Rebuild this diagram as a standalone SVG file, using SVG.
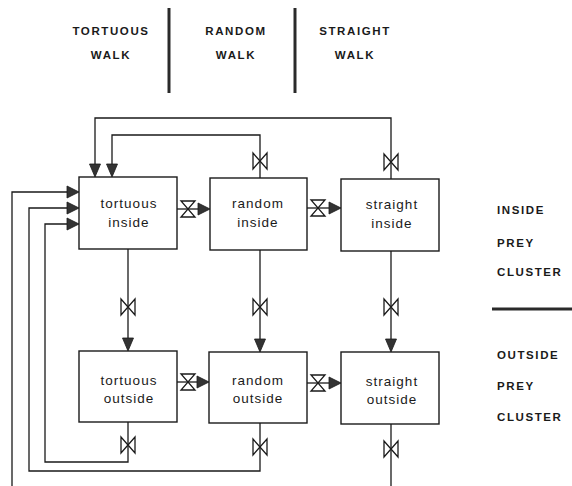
<svg xmlns="http://www.w3.org/2000/svg" xmlns:xlink="http://www.w3.org/1999/xlink" width="572" height="486" viewBox="0 0 572 486">
  <style>
    .hdr { font-family: "Liberation Sans", Arial, sans-serif; font-size: 11.5px; font-weight: bold; letter-spacing: 1.6px; fill: #1a1a1a; }
    .lbl { font-family: "Liberation Sans", Arial, sans-serif; font-size: 13.5px; letter-spacing: 1px; fill: #1a1a1a; text-anchor: middle; }
    .box { fill: #ffffff; stroke: #1a1a1a; stroke-width: 1.4; }
    .ln { fill: none; stroke: #1a1a1a; stroke-width: 1.3; }
    .bar { stroke: #2a2a2a; stroke-width: 3; }
    .valve { fill: #ffffff; stroke: #1a1a1a; stroke-width: 1.3; stroke-linejoin: miter; }
    .ah { fill: #333333; stroke: #1a1a1a; stroke-width: 0.8; }
  </style>
  <defs>
    <!-- valve on a vertical line -->
    <polygon id="valveV" class="valve" points="-7,-8 -7,8 7,-8 7,8"/>
    <!-- valve on a horizontal line -->
    <polygon id="valveH" class="valve" points="-7,-8 7,-8 -7,8 7,8"/>
    <!-- arrowhead pointing down, tip at origin -->
    <polygon id="ahDown" class="ah" points="0,0 -5.5,-13 5.5,-13"/>
    <!-- arrowhead pointing right, tip at origin -->
    <polygon id="ahRight" class="ah" points="0,0 -12,-6 -12,6"/>
  </defs>

  <!-- header -->
  <g id="header">
    <text class="hdr" x="111" y="35" text-anchor="middle">TORTUOUS</text>
    <text class="hdr" x="111" y="59" text-anchor="middle">WALK</text>
    <text class="hdr" x="236" y="35" text-anchor="middle">RANDOM</text>
    <text class="hdr" x="236" y="59" text-anchor="middle">WALK</text>
    <text class="hdr" x="355" y="35" text-anchor="middle">STRAIGHT</text>
    <text class="hdr" x="355" y="59" text-anchor="middle">WALK</text>
    <line class="bar" x1="169" y1="8" x2="169" y2="93"/>
    <line class="bar" x1="295" y1="8" x2="295" y2="93"/>
  </g>

  <!-- side labels -->
  <g id="side">
    <text class="hdr" x="497" y="214">INSIDE</text>
    <text class="hdr" x="497" y="247">PREY</text>
    <text class="hdr" x="497" y="276">CLUSTER</text>
    <line class="bar" x1="492" y1="309" x2="572" y2="309"/>
    <text class="hdr" x="497" y="359">OUTSIDE</text>
    <text class="hdr" x="497" y="390">PREY</text>
    <text class="hdr" x="497" y="421">CLUSTER</text>
  </g>

  <!-- connectors -->
  <g id="connectors">
    <!-- top feedback loops -->
    <polyline class="ln" points="391,179 391,118 95,118 95,166"/>
    <use href="#valveV" x="391" y="162"/>
    <use href="#ahDown" x="95" y="177"/>
    <polyline class="ln" points="260,178 260,135 112,135 112,166"/>
    <use href="#valveV" x="260" y="161"/>
    <use href="#ahDown" x="112" y="177"/>

    <!-- inside to outside -->
    <line class="ln" x1="128" y1="249" x2="128" y2="340"/>
    <use href="#valveV" x="128" y="307"/>
    <use href="#ahDown" x="128" y="351"/>
    <line class="ln" x1="260" y1="250" x2="260" y2="340"/>
    <use href="#valveV" x="260" y="307"/>
    <use href="#ahDown" x="260" y="352"/>
    <line class="ln" x1="391" y1="251" x2="391" y2="340"/>
    <use href="#valveV" x="391" y="307"/>
    <use href="#ahDown" x="391" y="352"/>

    <!-- horizontal: inside row -->
    <line class="ln" x1="177" y1="209" x2="200" y2="209"/>
    <use href="#valveH" x="188" y="209"/>
    <use href="#ahRight" x="210" y="209"/>
    <line class="ln" x1="307" y1="208" x2="330" y2="208"/>
    <use href="#valveH" x="318" y="208"/>
    <use href="#ahRight" x="341" y="208"/>

    <!-- horizontal: outside row -->
    <line class="ln" x1="177" y1="382" x2="200" y2="382"/>
    <use href="#valveH" x="188" y="382"/>
    <use href="#ahRight" x="209" y="382"/>
    <line class="ln" x1="307" y1="383" x2="330" y2="383"/>
    <use href="#valveH" x="318" y="383"/>
    <use href="#ahRight" x="341" y="383"/>

    <!-- bottom feedback loops -->
    <polyline class="ln" points="128,422 128,462 45,462 45,224 68,224"/>
    <use href="#valveV" x="128" y="445"/>
    <use href="#ahRight" x="79" y="224"/>
    <polyline class="ln" points="260,423 260,471 29,471 29,208 68,208"/>
    <use href="#valveV" x="260" y="447"/>
    <use href="#ahRight" x="79" y="208"/>
    <polyline class="ln" points="12,486 12,192 68,192"/>
    <use href="#ahRight" x="79" y="192"/>
    <line class="ln" x1="391" y1="424" x2="391" y2="486"/>
    <use href="#valveV" x="391" y="449"/>
  </g>

  <!-- nodes -->
  <g id="tortuous-inside">
    <rect class="box" x="79" y="177" width="98" height="72"/>
    <text class="lbl" x="129" y="208">tortuous</text>
    <text class="lbl" x="129" y="227">inside</text>
  </g>
  <g id="random-inside">
    <rect class="box" x="210" y="178" width="97" height="72"/>
    <text class="lbl" x="258" y="208">random</text>
    <text class="lbl" x="258" y="227">inside</text>
  </g>
  <g id="straight-inside">
    <rect class="box" x="341" y="179" width="98" height="72"/>
    <text class="lbl" x="392" y="209">straight</text>
    <text class="lbl" x="392" y="228">inside</text>
  </g>
  <g id="tortuous-outside">
    <rect class="box" x="79" y="351" width="98" height="71"/>
    <text class="lbl" x="129" y="385">tortuous</text>
    <text class="lbl" x="129" y="403">outside</text>
  </g>
  <g id="random-outside">
    <rect class="box" x="209" y="352" width="98" height="71"/>
    <text class="lbl" x="258" y="385">random</text>
    <text class="lbl" x="258" y="403">outside</text>
  </g>
  <g id="straight-outside">
    <rect class="box" x="341" y="352" width="98" height="72"/>
    <text class="lbl" x="392" y="386">straight</text>
    <text class="lbl" x="392" y="404">outside</text>
  </g>
</svg>
